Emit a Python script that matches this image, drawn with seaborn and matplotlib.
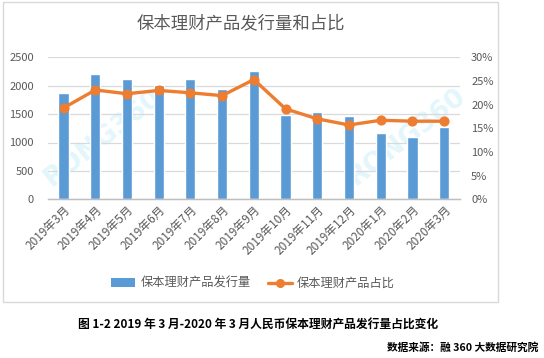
import seaborn as sns
import matplotlib.pyplot as plt
import pandas as pd
from matplotlib.patches import Rectangle, Patch
from matplotlib.lines import Line2D
from matplotlib.ticker import PercentFormatter, MultipleLocator, FixedLocator

# ----------------------------------------------------------- datos

meses = ['2019年3月', '2019年4月', '2019年5月', '2019年6月', '2019年7月', '2019年8月',
         '2019年9月', '2019年10月', '2019年11月', '2019年12月', '2020年1月', '2020年2月',
         '2020年3月']
fa_xing_liang = [1877, 2201, 2113, 2012, 2118, 1937, 2259, 1491, 1543, 1467, 1174, 1103, 1279]
zhan_bi = [0.193, 0.231, 0.223, 0.230, 0.225, 0.219, 0.253, 0.191, 0.170, 0.157, 0.167, 0.165, 0.165]

nombre_barras = '保本理财产品发行量'
nombre_linea = '保本理财产品占比'
titulo = '保本理财产品发行量和占比'
pie = '图 1-2 2019 年 3 月-2020 年 3 月人民币保本理财产品发行量占比变化'
fuente = '数据来源：融 360 大数据研究院'

df = pd.DataFrame({'mes': meses, 'cantidad': fa_xing_liang, 'ratio': zhan_bi})

# ----------------------------------------------------------- estilo

sns.set_style('white')
plt.rcParams['font.family'] = ['Noto Sans CJK SC', 'DejaVu Sans']

AZUL = '#5B9BD5'
NARANJA = '#ED7D31'
GRIS_TXT = '#595959'
GRIS_LIN = '#d9d9d9'

W, H = 544, 358
fig = plt.figure(figsize=(W / 100, H / 100), dpi=100)
ax = fig.add_axes([47.7 / W, 1 - 199.3 / H, (460 - 47.7) / W, (199.3 - 57.3) / H])

sns.barplot(data=df, x='mes', y='cantidad', color=AZUL, width=0.32,
            saturation=1, ax=ax, zorder=2)

ax2 = ax.twinx()
sns.pointplot(data=df, x='mes', y='ratio', color=NARANJA, markers='o',
              linestyles='-', markersize=5.5, linewidth=2.4, ax=ax2)

# ejes
ax.set_ylim(0, 2500)
ax.yaxis.set_major_locator(MultipleLocator(500))
ax2.set_ylim(0, 0.30)
ax2.yaxis.set_major_locator(MultipleLocator(0.05))
ax2.yaxis.set_major_formatter(PercentFormatter(1.0, decimals=0))
ax.set_xlim(-0.5, len(meses) - 0.5)

ax.set_xlabel('')
ax.set_ylabel('')
ax2.set_xlabel('')
ax2.set_ylabel('')

ax.grid(axis='y', color=GRIS_LIN, lw=0.9)
ax.set_axisbelow(True)

for a in (ax, ax2):
    for s in ['top', 'left', 'right']:
        a.spines[s].set_visible(False)
    a.spines['bottom'].set_color('#bfbfbf')
    a.spines['bottom'].set_linewidth(0.9)

ax.tick_params(axis='y', length=0, labelsize=8, labelcolor=GRIS_TXT, pad=10)
ax2.tick_params(axis='y', length=0, labelsize=8, labelcolor=GRIS_TXT, pad=8)
for lab in ax2.get_yticklabels():
    lab.set_horizontalalignment('left')

# marcas del eje x en los limites de categoria (estilo Excel)
ax.xaxis.set_minor_locator(FixedLocator([i - 0.5 for i in range(len(meses) + 1)]))
ax.tick_params(axis='x', which='minor', length=4, color='#bfbfbf', width=0.9)
ax.tick_params(axis='x', which='major', length=0, labelsize=8.5, labelcolor=GRIS_TXT, pad=3)
ax.set_xticks(range(len(meses)))
ax.set_xticklabels(meses, rotation=45, ha='right', rotation_mode='anchor')

# marca de agua
for xw, yw in [(103, 138), (407, 137)]:
    ax.text(xw / W, 1 - yw / H, 'RONG360', transform=fig.transFigure, rotation=38,
            ha='center', va='center', fontsize=19, fontweight='bold',
            color='#e3f6fc', zorder=0.5, family='DejaVu Sans')

# titulo
fig.text(241 / W, 1 - 23 / H, titulo, ha='center', va='center', fontsize=12.5, color=GRIS_TXT)

# leyenda
manejadores = [Patch(facecolor=AZUL, edgecolor='none'),
               Line2D([0], [0], color=NARANJA, lw=2.4, marker='o', markersize=5.5)]
fig.legend(manejadores, [nombre_barras, nombre_linea], loc='center',
           bbox_to_anchor=(253 / W, 1 - 283.5 / H), ncol=2, frameon=False,
           fontsize=8.8, handlelength=2.0, handleheight=0.8, columnspacing=1.4,
           handletextpad=0.4, labelcolor=GRIS_TXT)

# borde del grafico
fig.patches.append(Rectangle((3 / W, 1 - 302 / H), 495 / W, 300 / H,
                             transform=fig.transFigure, fill=False,
                             edgecolor=GRIS_LIN, lw=1))

# pie y fuente
fig.text(258 / W, 1 - 325 / H, pie, ha='center', va='center', fontsize=8.5,
         fontweight='bold', color='#000000')
fig.text(538 / W, 1 - 348 / H, fuente, ha='right', va='center', fontsize=7.7,
         fontweight='bold', color='#000000')

fig.savefig('out.png', dpi=100)
